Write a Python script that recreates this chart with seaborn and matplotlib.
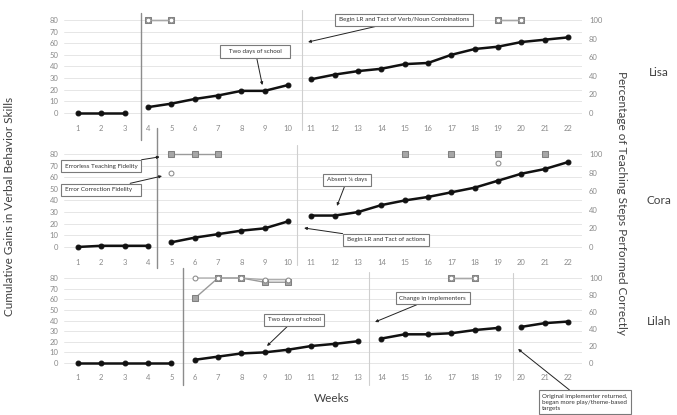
"""
Multiple-baseline chart: cumulative verbal behavior gains and fidelity per child.
"""

import matplotlib

matplotlib.use("Agg")
import matplotlib.pyplot as plt
import numpy as np
import pandas as pd
import seaborn as sns

sns.set_style("white")
plt.rcParams["font.family"] = ["Lato", "DejaVu Sans"]

nan = np.nan
weeks = list(range(1, 23))

# cumulative gains (left axis)
lisa_gains = [0, 0, 0, 5, 8, 12, 15, 19, 19, 24, 29, 33, 36, 38, 42, 43, 50, 55, 57, 61, 63, 65]
lisa_phase = [1] * 3 + [2] * 7 + [3] * 12
cora_gains = [0, 1, 1, 1, 4, 8, 11, 14, 16, 22, 27, 27, 30, 36, 40, 43, 47, 51, 57, 63, 67, 73]
cora_phase = [1] * 4 + [2] * 6 + [3] * 12
lilah_gains = [0, 0, 0, 0, 0, 3, 6, 9, 10, 12.5, 16, 18, 20.5, 23, 27, 27, 28, 31, 33, 34, 37.5, 39]
lilah_phase = [1] * 5 + [2] * 8 + [3] * 6 + [4] * 3

# fidelity, % of teaching steps performed correctly (right axis)
lisa_errorless = [nan] * 3 + [100, 100] + [nan] * 13 + [100, 100] + [nan] * 2
lisa_correction = [nan] * 3 + [100, 100] + [nan] * 13 + [100, 100] + [nan] * 2
cora_errorless = [nan] * 4 + [100, 100, 100] + [nan] * 7 + [100, nan, 100, nan, 100, nan, 100, nan]
cora_correction = [nan] * 4 + [80] + [nan] * 13 + [90] + [nan] * 3
lilah_errorless = [nan] * 5 + [76, 100, 100, 95, 95] + [nan] * 6 + [100, 100] + [nan] * 4
lilah_correction = [nan] * 5 + [100, 100, 100, 98, 98] + [nan] * 6 + [100, 100] + [nan] * 4

names = ["Lisa", "Cora", "Lilah"]

fig = plt.figure(figsize=(6.77, 4.15), dpi=100)


def px_axes(top, bottom, left=64, right=582):
    return fig.add_axes([left / 677, 1 - bottom / 415, (right - left) / 677, (bottom - top) / 415])


def runs(values):
    s = pd.DataFrame({"week": weeks, "pct": values})
    s["run"] = s["pct"].isna().cumsum()
    return s.dropna()


def draw_panel(ax, gains, phase, errorless, correction):
    ax.set_xlim(0.4, 22.6)
    ax.set_ylim(-4, 84)
    ax.set_yticks(range(0, 81, 10))
    ax.set_xticks(weeks)
    ax.grid(axis="y", color="#e2e2e2", lw=0.6)
    ax.set_axisbelow(True)
    for s in ax.spines.values():
        s.set_visible(False)
    ax.tick_params(axis="y", length=0, labelsize=5.5, colors="#8a8a8a", pad=4)
    ax.tick_params(axis="x", length=0, labelsize=5.5, colors="#8a8a8a", pad=5)

    df = pd.DataFrame({"week": weeks, "gains": gains, "phase": phase})
    sns.lineplot(ax=ax, data=df, x="week", y="gains", units="phase", estimator=None,
                 color="#111111", lw=1.8, marker="o", markersize=3.5,
                 markeredgecolor="#111111", zorder=3)
    ax.set(xlabel=None, ylabel=None)

    ax2 = ax.twinx()
    ax2.set_ylim(-5, 105)
    ax2.set_yticks(range(0, 101, 20))
    for s in ax2.spines.values():
        s.set_visible(False)
    ax2.tick_params(axis="y", length=0, labelsize=5.5, colors="#8a8a8a", pad=5)

    e = runs(errorless)
    sns.lineplot(ax=ax2, data=e, x="week", y="pct", units="run", estimator=None,
                 color="#9a9a9a", lw=1.0, marker="s", markersize=5,
                 markerfacecolor="#a6a6a6", markeredgecolor="#808080")
    c = runs(correction)
    sns.lineplot(ax=ax2, data=c, x="week", y="pct", units="run", estimator=None,
                 color="#a8a8a8", lw=0.9, marker="o", markersize=3.5,
                 markerfacecolor="white", markeredgecolor="#8a8a8a")
    ax2.set(xlabel=None, ylabel=None)
    ax2.set_xlim(0.4, 22.6)
    return ax2


box = dict(boxstyle="square,pad=0.6", fc="white", ec="#7a7a7a", lw=0.8)
arrow = dict(arrowstyle="-|>", color="#222222", lw=0.7, mutation_scale=4, shrinkA=0, shrinkB=0)


def note(ax, text, xytext, xy, ha="center"):
    ax.annotate(text, xy=xy, xytext=xytext, fontsize=4.5, ha=ha, va="center", color="#333333",
                bbox=box, arrowprops=arrow, annotation_clip=False, zorder=6)


# Lisa
ax = px_axes(15.3, 117.6)
draw_panel(ax, lisa_gains, lisa_phase, lisa_errorless, lisa_correction)
ax.axvline(3.7, ymin=-0.22, ymax=1.02, color="#8c8c8c", lw=1.0, clip_on=False)
ax.axvline(10.6, ymin=-0.12, ymax=1.05, color="#cfcfcf", lw=0.8, clip_on=False)
note(ax, "   Two days of school   ", (8.6, 53), (8.9, 24))
note(ax, "Begin LR and Tact of Verb/Noun Combinations", (14.97, 80), (10.86, 61))

# Cora
ax = px_axes(149.3, 251.6)
draw_panel(ax, cora_gains, cora_phase, cora_errorless, cora_correction)
ax.axvline(4.39, ymin=-0.16, ymax=1.21, color="#8c8c8c", lw=1.0, clip_on=False)
ax.axvline(10.39, ymin=-0.13, ymax=1.04, color="#cfcfcf", lw=0.8, clip_on=False)
note(ax, "Errorless Teaching Fidelity", (1.99, 69.5), (4.5, 77.5))
note(ax, "Error Correction Fidelity   ", (1.99, 49), (4.6, 61))
note(ax, "Absent ¾ days", (12.53, 57.6), (12.1, 35.3))
note(ax, "Begin LR and Tact of actions", (14.2, 6), (10.69, 16.3))

# Lilah
ax = px_axes(273.75, 367.25)
draw_panel(ax, lilah_gains, lilah_phase, lilah_errorless, lilah_correction)
ax.axvline(5.5, ymin=-0.19, ymax=1.06, color="#8c8c8c", lw=1.0, clip_on=False)
ax.axvline(13.47, ymin=-0.19, ymax=1.02, color="#cfcfcf", lw=0.8, clip_on=False)
ax.axvline(19.64, ymin=-0.14, ymax=1.01, color="#cfcfcf", lw=0.8, clip_on=False)
note(ax, "Two days of school", (10.26, 40.5), (9.1, 16))
note(ax, "Change in implementers", (16.2, 61), (13.73, 38.6))
note(ax, "Original implementer returned,\nbegan more play/theme-based\ntargets",
     (20.9, -37), (19.86, 13.2), ha="left")

fig.text(10 / 677, 1 - 206 / 415, "Cumulative Gains in Verbal Behavior Skills",
         rotation=90, ha="center", va="center", fontsize=8.5, color="#404040")
fig.text(621 / 677, 1 - 203 / 415, "Percentage of Teaching Steps Performed Correctly",
         rotation=270, ha="center", va="center", fontsize=8.5, color="#404040")
for name, y in zip(names, [72, 200, 321]):
    fig.text(659 / 677, 1 - y / 415, name, ha="center", va="center", fontsize=8.5, color="#404040")
fig.text(332 / 677, 1 - 398 / 415, "Weeks", ha="center", va="center", fontsize=8.5, color="#404040")

plt.savefig("out.png", dpi=100)
